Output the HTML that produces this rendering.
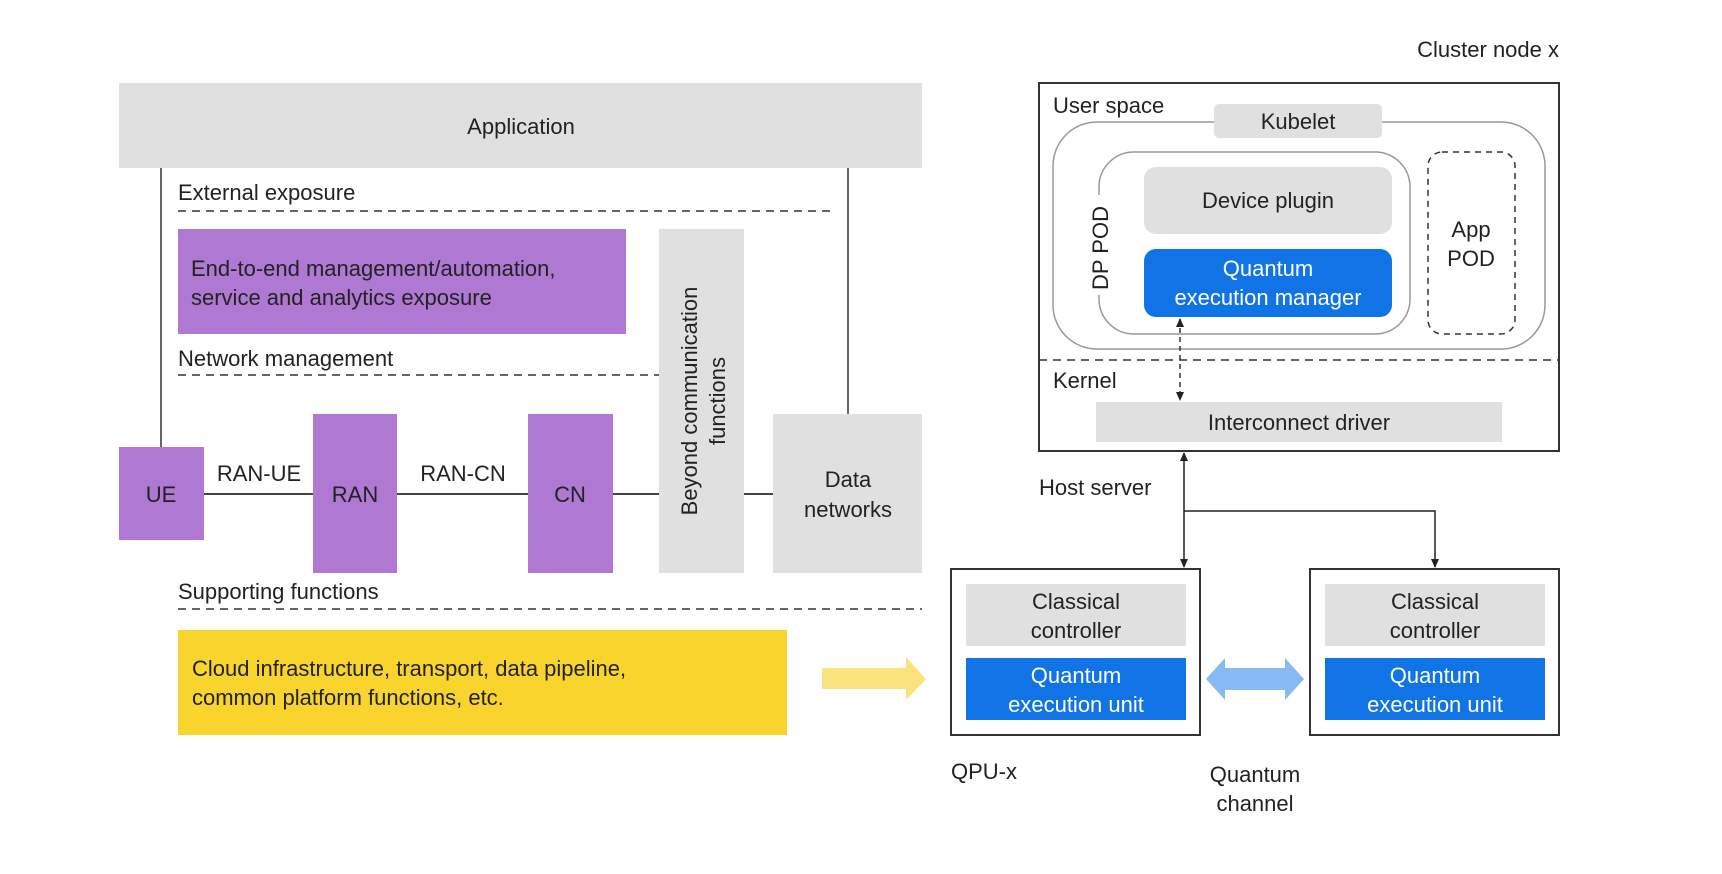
<!DOCTYPE html>
<html><head><meta charset="utf-8"><style>
html,body{margin:0;padding:0;background:#fff;}
svg{display:block;font-family:"Liberation Sans",sans-serif;}
</style></head><body>
<svg width="1722" height="874" viewBox="0 0 1722 874" xmlns="http://www.w3.org/2000/svg">
<defs>
<marker id="ah" markerWidth="10" markerHeight="10" refX="8" refY="5" orient="auto-start-reverse" markerUnits="userSpaceOnUse">
<path d="M0,1 L9,5 L0,9 z" fill="#222"/></marker>
</defs>
<g font-size="22" fill="#222">
<text x="1559" y="57" text-anchor="end">Cluster node x</text>

<line x1="161" y1="168" x2="161" y2="447" stroke="#333" stroke-width="1.5"/>
<line x1="848" y1="168" x2="848" y2="414" stroke="#333" stroke-width="1.5"/>
<rect x="119" y="83" width="803" height="85" fill="#e0e0e0"/>
<text x="521" y="134" text-anchor="middle">Application</text>
<text x="178" y="200">External exposure</text>
<line x1="178" y1="211" x2="834" y2="211" stroke="#333" stroke-width="1.5" stroke-dasharray="8,6"/>
<rect x="178" y="229" width="448" height="105" fill="#af78d2"/>
<text x="191" y="276">End-to-end management/automation,</text>
<text x="191" y="305">service and analytics exposure</text>
<text x="178" y="366">Network management</text>
<line x1="178" y1="375" x2="659" y2="375" stroke="#333" stroke-width="1.5" stroke-dasharray="8,6"/>
<line x1="204" y1="494" x2="773" y2="494" stroke="#444" stroke-width="2"/>
<rect x="659" y="229" width="85" height="344" fill="#e0e0e0"/>
<text transform="translate(697,401) rotate(-90)" text-anchor="middle">Beyond communication</text>
<text transform="translate(725,401) rotate(-90)" text-anchor="middle">functions</text>
<rect x="119" y="447" width="85" height="93" fill="#af78d2"/>
<text x="161" y="502" text-anchor="middle">UE</text>
<rect x="313" y="414" width="84" height="159" fill="#af78d2"/>
<text x="355" y="502" text-anchor="middle">RAN</text>
<rect x="528" y="414" width="85" height="159" fill="#af78d2"/>
<text x="570" y="502" text-anchor="middle">CN</text>
<rect x="773" y="414" width="149" height="159" fill="#e0e0e0"/>
<text x="848" y="487" text-anchor="middle">Data</text>
<text x="848" y="517" text-anchor="middle">networks</text>
<text x="259" y="481" text-anchor="middle">RAN-UE</text>
<text x="463" y="481" text-anchor="middle">RAN-CN</text>
<text x="178" y="599">Supporting functions</text>
<line x1="178" y1="609" x2="922" y2="609" stroke="#333" stroke-width="1.5" stroke-dasharray="8,6"/>
<rect x="178" y="630" width="609" height="105" fill="#f9d42d"/>
<text x="192" y="676">Cloud infrastructure, transport, data pipeline,</text>
<text x="192" y="705">common platform functions, etc.</text>
<path d="M822,668 L906,668 L906,657 L926,679 L906,700 L906,689 L822,689 z" fill="#fae27f"/>

<rect x="1039" y="83" width="520" height="368" fill="none" stroke="#333" stroke-width="2"/>
<text x="1053" y="113">User space</text>
<rect x="1053" y="122" width="492" height="227" rx="44" fill="none" stroke="#999" stroke-width="1.5"/>
<rect x="1214" y="104" width="168" height="34" rx="5" fill="#e0e0e0"/>
<text x="1298" y="129" text-anchor="middle">Kubelet</text>
<rect x="1099" y="152" width="311" height="182" rx="35" fill="#fff" stroke="#999" stroke-width="1.5"/>
<rect x="1088" y="195" width="24" height="100" fill="#fff"/>
<text transform="translate(1108,248) rotate(-90)" text-anchor="middle">DP POD</text>
<rect x="1144" y="167" width="248" height="67" rx="12" fill="#e0e0e0"/>
<text x="1268" y="208" text-anchor="middle">Device plugin</text>
<rect x="1144" y="249" width="248" height="68" rx="12" fill="#1174e6"/>
<text x="1268" y="276" text-anchor="middle" fill="#fff">Quantum</text>
<text x="1268" y="305" text-anchor="middle" fill="#fff">execution manager</text>
<rect x="1428" y="152" width="87" height="182" rx="14" fill="none" stroke="#333" stroke-width="1.5" stroke-dasharray="6,5"/>
<text x="1471" y="237" text-anchor="middle">App</text>
<text x="1471" y="266" text-anchor="middle">POD</text>
<line x1="1039" y1="360" x2="1559" y2="360" stroke="#333" stroke-width="1.5" stroke-dasharray="8,6"/>
<text x="1053" y="388">Kernel</text>
<rect x="1096" y="402" width="406" height="40" fill="#e0e0e0"/>
<text x="1299" y="430" text-anchor="middle">Interconnect driver</text>
<line x1="1180" y1="319" x2="1180" y2="400" stroke="#333" stroke-width="1.5" stroke-dasharray="5,4" marker-start="url(#ah)" marker-end="url(#ah)"/>

<text x="1039" y="495">Host server</text>
<line x1="1184" y1="453" x2="1184" y2="567" stroke="#222" stroke-width="1.5" marker-start="url(#ah)" marker-end="url(#ah)"/>
<polyline points="1184,511 1435,511 1435,567" fill="none" stroke="#222" stroke-width="1.5" marker-end="url(#ah)"/>

<rect x="951" y="569" width="249" height="166" fill="none" stroke="#333" stroke-width="2"/>
<rect x="966" y="584" width="220" height="62" fill="#e0e0e0"/>
<text x="1076" y="609" text-anchor="middle">Classical</text>
<text x="1076" y="638" text-anchor="middle">controller</text>
<rect x="966" y="658" width="220" height="62" fill="#1174e6"/>
<text x="1076" y="683" text-anchor="middle" fill="#fff">Quantum</text>
<text x="1076" y="712" text-anchor="middle" fill="#fff">execution unit</text>

<rect x="1310" y="569" width="249" height="166" fill="none" stroke="#333" stroke-width="2"/>
<rect x="1325" y="584" width="220" height="62" fill="#e0e0e0"/>
<text x="1435" y="609" text-anchor="middle">Classical</text>
<text x="1435" y="638" text-anchor="middle">controller</text>
<rect x="1325" y="658" width="220" height="62" fill="#1174e6"/>
<text x="1435" y="683" text-anchor="middle" fill="#fff">Quantum</text>
<text x="1435" y="712" text-anchor="middle" fill="#fff">execution unit</text>

<path d="M1206,679 L1225,658 L1225,668 L1285,668 L1285,658 L1304,679 L1285,700 L1285,690 L1225,690 L1225,700 z" fill="#87baf5"/>
<text x="951" y="779">QPU-x</text>
<text x="1255" y="782" text-anchor="middle">Quantum</text>
<text x="1255" y="811" text-anchor="middle">channel</text>
</g>
</svg>
</body></html>
